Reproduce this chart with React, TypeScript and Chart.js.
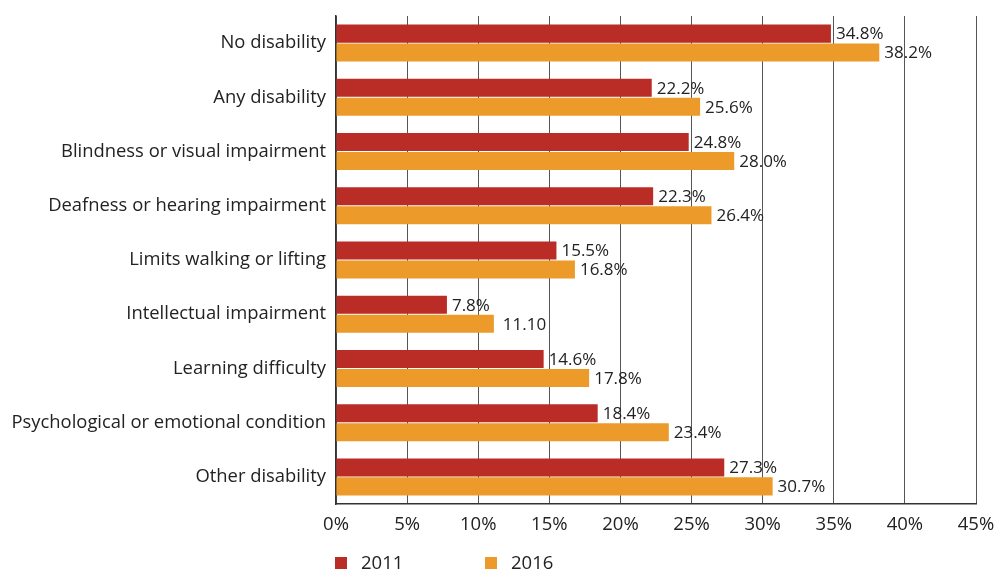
import React, { useEffect, useRef } from "react";
import { Chart, registerables } from "chart.js";

Chart.register(...registerables);

const categories = [
  "No disability",
  "Any disability",
  "Blindness or visual impairment",
  "Deafness or hearing impairment",
  "Limits walking or lifting",
  "Intellectual impairment",
  "Learning difficulty",
  "Psychological or emotional condition",
  "Other disability",
];
const values2011 = [34.8, 22.2, 24.8, 22.3, 15.5, 7.8, 14.6, 18.4, 27.3];
const values2016 = [38.2, 25.6, 28.0, 26.4, 16.8, 11.1, 17.8, 23.4, 30.7];
const labels2011 = ["34.8%", "22.2%", "24.8%", "22.3%", "15.5%", "7.8%", "14.6%", "18.4%", "27.3%"];
const labels2016 = ["38.2%", "25.6%", "28.0%", "26.4%", "16.8%", "11.10", "17.8%", "23.4%", "30.7%"];
const seriesNames = ["2011", "2016"];
const RED = "#B92D26";
const ORANGE = "#EC9A2A";
const FONT = "'Open Sans', 'Noto Sans', sans-serif";

const valueLabelPlugin = {
  id: "valueLabels",
  afterDatasetsDraw(chart: any) {
    const ctx = chart.ctx;
    const lbls = [labels2011, labels2016];
    ctx.save();
    ctx.font = `17px ${FONT}`;
    ctx.fillStyle = "#222";
    ctx.textBaseline = "middle";
    ctx.textAlign = "left";
    chart.data.datasets.forEach((_: any, di: number) => {
      const meta = chart.getDatasetMeta(di);
      meta.data.forEach((bar: any, i: number) => {
        const txt = lbls[di][i];
        const extra = txt.indexOf("%") < 0 ? 9 : 5;
        ctx.fillText(txt, bar.x + extra, bar.y + 1);
      });
    });
    ctx.restore();
  },
};

const legendPlugin = {
  id: "customLegend",
  afterDraw(chart: any) {
    const ctx = chart.ctx;
    const left = chart.chartArea.left;
    const colors = [RED, ORANGE];
    const offsets = [-1, 149];
    ctx.save();
    ctx.font = `18.5px ${FONT}`;
    ctx.textBaseline = "middle";
    ctx.textAlign = "left";
    seriesNames.forEach((name, i) => {
      const x = left + offsets[i];
      const y = 563;
      ctx.fillStyle = colors[i];
      ctx.fillRect(x, y - 6, 12, 12);
      ctx.fillStyle = "#222";
      ctx.fillText(name, x + 26, y + 1);
    });
    ctx.restore();
  },
};

export default function App() {
  const ref = useRef<HTMLCanvasElement>(null);
  useEffect(() => {
    if (!ref.current) return;
    const chart = new Chart(ref.current, {
      type: "bar",
      data: {
        labels: categories,
        datasets: [
          {
            label: seriesNames[0],
            data: values2011,
            backgroundColor: RED,
            categoryPercentage: 0.7,
            barPercentage: 0.95,
          },
          {
            label: seriesNames[1],
            data: values2016,
            backgroundColor: ORANGE,
            categoryPercentage: 0.7,
            barPercentage: 0.95,
          },
        ],
      },
      options: {
        indexAxis: "y",
        animation: false,
        responsive: false,
        layout: { padding: { left: 0, right: 22, top: 16, bottom: 0 } },
        plugins: {
          legend: { display: false },
          tooltip: { enabled: false },
        },
        scales: {
          x: {
            min: 0,
            max: 45,
            ticks: {
              stepSize: 5,
              callback: (v: any) => `${v}%`,
              color: "#222",
              font: { family: FONT, size: 18.5 },
              padding: 10,
            },
            grid: { color: "#555", lineWidth: 1, drawTicks: false },
            border: { color: "#333", width: 1.5 },
            afterFit: (s: any) => {
              s.height = 68;
              s.paddingLeft = 0;
              s.paddingRight = 0;
            },
          },
          y: {
            ticks: {
              color: "#222",
              font: { family: FONT, size: 18.4 },
              padding: 10,
              autoSkip: false,
            },
            grid: { display: false, drawTicks: false },
            border: { color: "#333", width: 1.5 },
            afterFit: (s: any) => {
              s.width = 336;
              s.paddingTop = 0;
              s.paddingBottom = 0;
            },
          },
        },
      },
      plugins: [valueLabelPlugin, legendPlugin],
    });
    return () => chart.destroy();
  }, []);
  return (
    <div style={{ position: "fixed", left: 0, top: 0, width: 998, height: 572, background: "#fff" }}>
      <canvas ref={ref} width={998} height={572} style={{ width: 998, height: 572, display: "block" }} />
    </div>
  );
}
